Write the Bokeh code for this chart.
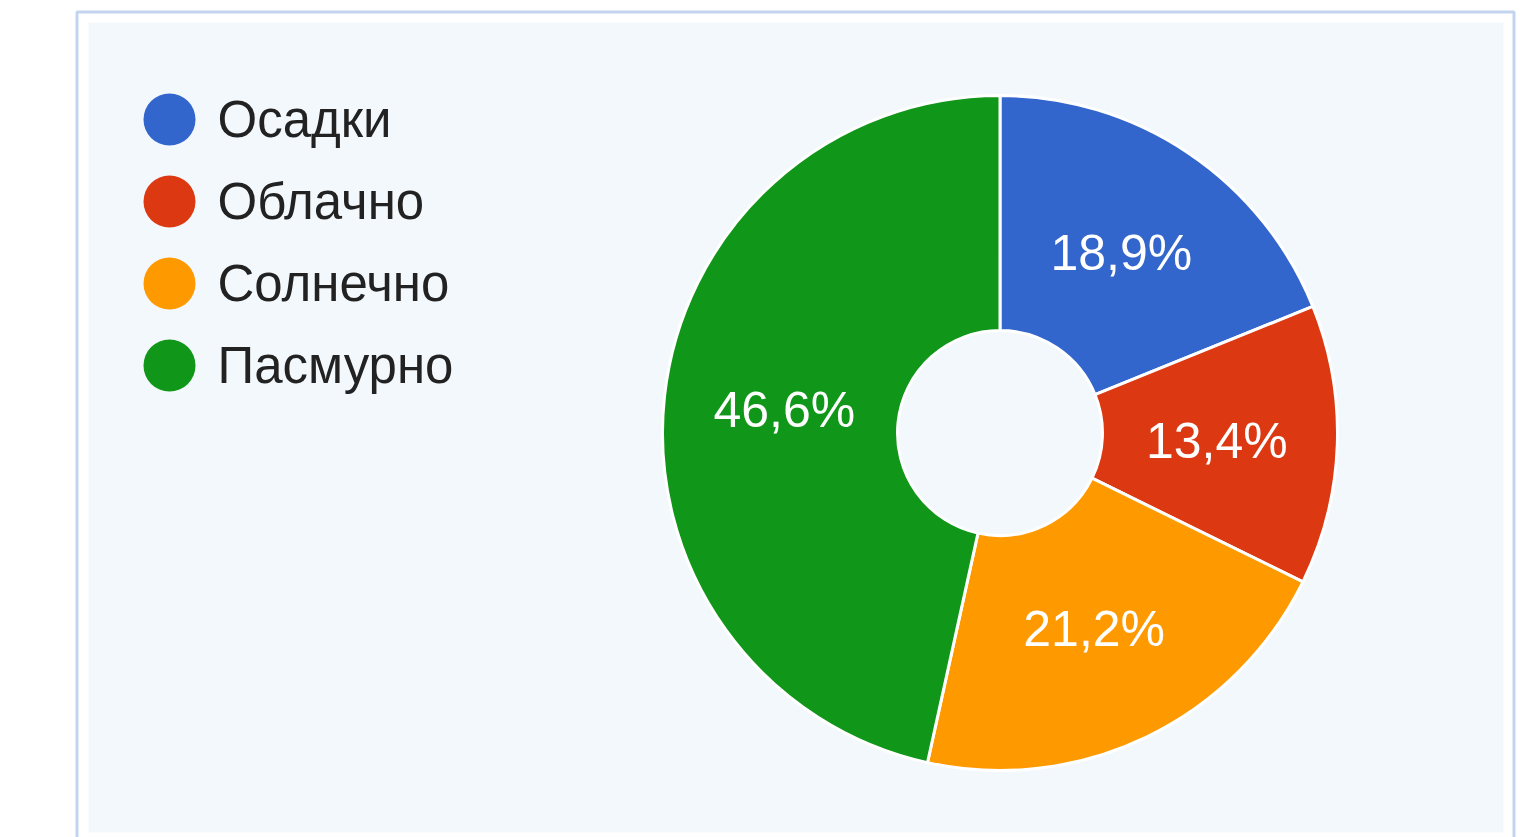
import math
from bokeh.plotting import figure
from bokeh.models import Range1d
from bokeh.core.properties import value
from bokeh.embed import file_html
from bokeh.resources import INLINE

# ---- data ----
categories = ["Осадки", "Облачно", "Солнечно", "Пасмурно"]
shares = [18.9, 13.4, 21.2, 46.6]
colors = ["#3366cc", "#dc3912", "#ff9900", "#109618"]

W, H = 1520, 837
p = figure(width=W, height=H, output_backend="svg", toolbar_location=None,
           x_range=Range1d(0, W), y_range=Range1d(0, H),
           x_axis_location=None, y_axis_location=None, min_border=0)
p.grid.visible = False
p.outline_line_color = None
p.background_fill_color = "white"
p.border_fill_color = "white"

def Y(y):
    return H - y

# panel
p.quad(left=[76.5], right=[1513.5], top=[Y(11.5)], bottom=[Y(860)],
       fill_color="white", line_color="#c3d5ee", line_width=3)
p.quad(left=[88], right=[1503], top=[Y(22)], bottom=[Y(832)],
       fill_color="#f3f8fc", line_color=None)

# donut
cx, cy = 999.5, Y(432.5)
r_out, r_in = 337.5, 102.5
total = sum(shares)
starts, ends, lx, ly, labels = [], [], [], [], []
cum = 0.0
for v in shares:
    a0 = math.pi / 2 - 2 * math.pi * cum / total
    cum += v
    a1 = math.pi / 2 - 2 * math.pi * cum / total
    starts.append(a0)
    ends.append(a1)
    mid = (a0 + a1) / 2
    rl = (r_out + r_in) / 2 - 3
    lx.append(cx + rl * math.cos(mid))
    ly.append(cy + rl * math.sin(mid))
    labels.append(f"{v:.1f}".replace(".", ",") + "%")

p.annular_wedge(x=cx, y=cy, inner_radius=r_in, outer_radius=r_out,
                start_angle=starts, end_angle=ends, direction="clock",
                fill_color=colors, line_color="white", line_width=3)

p.text(x=lx, y=ly, text=labels, text_color="white",
       text_font=value("Liberation Sans"), text_font_size="50px",
       text_align="center", text_baseline="middle")

# legend
leg_y = [Y(119 + 82 * i) for i in range(len(categories))]
p.scatter(x=[169] * len(categories), y=leg_y, size=52, marker="circle",
          fill_color=colors, line_color=None)
p.text(x=[217] * len(categories), y=leg_y, text=categories, text_color="#222222",
       text_font=value("Liberation Sans"), text_font_size="51px",
       text_align="left", text_baseline="middle")

open("out.html", "w").write(file_html(p, INLINE))
